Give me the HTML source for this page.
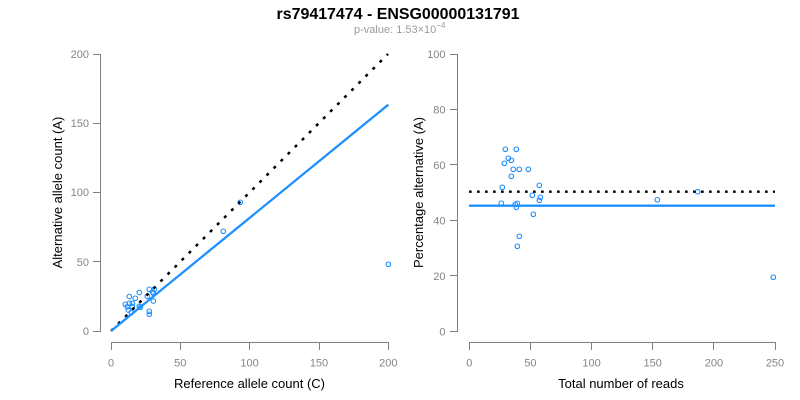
<!DOCTYPE html>
<html>
<head>
<meta charset="utf-8">
<style>
  html, body { margin: 0; padding: 0; background: #ffffff; }
  svg { display: block; }
  text { font-family: "Liberation Sans", Arial, sans-serif; }
</style>
</head>
<body>
<svg width="800" height="400" viewBox="0 0 800 400" xmlns="http://www.w3.org/2000/svg">
  <rect width="800" height="400" fill="#ffffff"/>

  <!-- Title -->
  <text x="398" y="19" font-size="16" font-weight="bold" text-anchor="middle" fill="#000" textLength="243" lengthAdjust="spacingAndGlyphs">rs79417474 - ENSG00000131791</text>
  <text x="354" y="33" font-size="11" fill="#9a9a9a">p-value: 1.53×10<tspan font-size="8" dy="-5">−4</tspan></text>

  <!-- ===== Left plot ===== -->
  <g stroke="#808080" stroke-width="1" fill="none">
    <line x1="100.5" y1="54" x2="100.5" y2="331"/>
    <line x1="93" y1="54.5" x2="101" y2="54.5"/>
    <line x1="93" y1="123.5" x2="101" y2="123.5"/>
    <line x1="93" y1="192.5" x2="101" y2="192.5"/>
    <line x1="93" y1="261.5" x2="101" y2="261.5"/>
    <line x1="93" y1="331.5" x2="101" y2="331.5"/>
    <line x1="111" y1="342.5" x2="388.5" y2="342.5"/>
    <line x1="111.5" y1="342" x2="111.5" y2="350"/>
    <line x1="180.5" y1="342" x2="180.5" y2="350"/>
    <line x1="249.5" y1="342" x2="249.5" y2="350"/>
    <line x1="319.5" y1="342" x2="319.5" y2="350"/>
    <line x1="388.5" y1="342" x2="388.5" y2="350"/>
  </g>
  <g font-size="11" fill="#858585" text-anchor="end">
    <text x="89" y="58">200</text>
    <text x="89" y="127">150</text>
    <text x="89" y="196">100</text>
    <text x="89" y="266">50</text>
    <text x="89" y="335">0</text>
  </g>
  <g font-size="11" fill="#858585" text-anchor="middle">
    <text x="111" y="366.5">0</text>
    <text x="180.3" y="366.5">50</text>
    <text x="249.6" y="366.5">100</text>
    <text x="319" y="366.5">150</text>
    <text x="388.3" y="366.5">200</text>
  </g>
  <text x="249.5" y="388" font-size="13" text-anchor="middle" fill="#000">Reference allele count (C)</text>
  <text transform="translate(62,192.5) rotate(-90)" font-size="13" text-anchor="middle" fill="#000">Alternative allele count (A)</text>

  <!-- left points -->
  <g fill="none" stroke="#1E90FF" stroke-width="1.1">
    <circle cx="129.3" cy="296.5" r="2.3"/>
    <circle cx="139.3" cy="292.5" r="2.3"/>
    <circle cx="135.3" cy="298.3" r="2.3"/>
    <circle cx="125.3" cy="304.3" r="2.3"/>
    <circle cx="129.3" cy="303.3" r="2.3"/>
    <circle cx="132.3" cy="303.3" r="2.3"/>
    <circle cx="127.3" cy="306.8" r="2.3"/>
    <circle cx="132.3" cy="306.5" r="2.3"/>
    <circle cx="128.3" cy="310" r="2.3"/>
    <circle cx="131.3" cy="312.5" r="2.3"/>
    <circle cx="139.3" cy="306.3" r="2.3"/>
    <circle cx="140.4" cy="307.4" r="2.3"/>
    <circle cx="149.3" cy="289.3" r="2.3"/>
    <circle cx="154.3" cy="289.3" r="2.3"/>
    <circle cx="153.3" cy="293.3" r="2.3"/>
    <circle cx="152.5" cy="292" r="2.3"/>
    <circle cx="147.3" cy="296.3" r="2.3"/>
    <circle cx="153.3" cy="301" r="2.3"/>
    <circle cx="149.3" cy="311.3" r="2.3"/>
    <circle cx="149.3" cy="314.3" r="2.3"/>
    <circle cx="223.3" cy="231.3" r="2.3"/>
    <circle cx="240.3" cy="202.3" r="2.3"/>
    <circle cx="388.3" cy="264.3" r="2.3"/>
  </g>
  <line x1="111" y1="331" x2="388" y2="54" stroke="#000" stroke-width="2.5" stroke-dasharray="3 7"/>
  <line x1="111" y1="331" x2="388.3" y2="104.7" stroke="#1E90FF" stroke-width="2.3"/>

  <!-- ===== Right plot ===== -->
  <g stroke="#808080" stroke-width="1" fill="none">
    <line x1="457.5" y1="54" x2="457.5" y2="331.5"/>
    <line x1="450" y1="54.5" x2="458" y2="54.5"/>
    <line x1="450" y1="109.5" x2="458" y2="109.5"/>
    <line x1="450" y1="164.5" x2="458" y2="164.5"/>
    <line x1="450" y1="220.5" x2="458" y2="220.5"/>
    <line x1="450" y1="275.5" x2="458" y2="275.5"/>
    <line x1="450" y1="331.5" x2="458" y2="331.5"/>
    <line x1="469" y1="342.5" x2="775.5" y2="342.5"/>
    <line x1="469.5" y1="342" x2="469.5" y2="350"/>
    <line x1="530.5" y1="342" x2="530.5" y2="350"/>
    <line x1="591.5" y1="342" x2="591.5" y2="350"/>
    <line x1="652.5" y1="342" x2="652.5" y2="350"/>
    <line x1="713.5" y1="342" x2="713.5" y2="350"/>
    <line x1="775.5" y1="342" x2="775.5" y2="350"/>
  </g>
  <g font-size="11" fill="#858585" text-anchor="end">
    <text x="445.5" y="58">100</text>
    <text x="445.5" y="113.5">80</text>
    <text x="445.5" y="169">60</text>
    <text x="445.5" y="224.5">40</text>
    <text x="445.5" y="280">20</text>
    <text x="445.5" y="335.5">0</text>
  </g>
  <g font-size="11" fill="#858585" text-anchor="middle">
    <text x="469.3" y="366.5">0</text>
    <text x="530.4" y="366.5">50</text>
    <text x="591.6" y="366.5">100</text>
    <text x="652.7" y="366.5">150</text>
    <text x="713.9" y="366.5">200</text>
    <text x="775" y="366.5">250</text>
  </g>
  <text x="621" y="388" font-size="13" text-anchor="middle" fill="#000">Total number of reads</text>
  <text transform="translate(423,192.5) rotate(-90)" font-size="13" text-anchor="middle" fill="#000">Percentage alternative (A)</text>

  <!-- right points -->
  <g fill="none" stroke="#1E90FF" stroke-width="1.1">
    <circle cx="505.3" cy="149.3" r="2.3"/>
    <circle cx="516.3" cy="149.3" r="2.3"/>
    <circle cx="508.3" cy="158.3" r="2.3"/>
    <circle cx="511.3" cy="160.3" r="2.3"/>
    <circle cx="504.3" cy="163.3" r="2.3"/>
    <circle cx="513.3" cy="169.3" r="2.3"/>
    <circle cx="519.3" cy="169.3" r="2.3"/>
    <circle cx="528.3" cy="169.3" r="2.3"/>
    <circle cx="511.3" cy="176.3" r="2.3"/>
    <circle cx="502.3" cy="187.3" r="2.3"/>
    <circle cx="539.3" cy="185.3" r="2.3"/>
    <circle cx="532.3" cy="195.3" r="2.3"/>
    <circle cx="540.3" cy="197.3" r="2.3"/>
    <circle cx="539.3" cy="200.3" r="2.3"/>
    <circle cx="501.3" cy="203.3" r="2.3"/>
    <circle cx="515.3" cy="204.3" r="2.3"/>
    <circle cx="517.3" cy="203.3" r="2.3"/>
    <circle cx="516.3" cy="207.3" r="2.3"/>
    <circle cx="533.3" cy="214.3" r="2.3"/>
    <circle cx="519.3" cy="236.3" r="2.3"/>
    <circle cx="517.3" cy="246.3" r="2.3"/>
    <circle cx="657.3" cy="199.8" r="2.3"/>
    <circle cx="697.7" cy="191.7" r="2.3"/>
    <circle cx="773.3" cy="277.3" r="2.3"/>
  </g>
  <line x1="469" y1="191.7" x2="775" y2="191.7" stroke="#000" stroke-width="2.4" stroke-dasharray="2.7 5.3"/>
  <line x1="469" y1="205.7" x2="775" y2="205.7" stroke="#1E90FF" stroke-width="2.3"/>
</svg>
</body>
</html>
